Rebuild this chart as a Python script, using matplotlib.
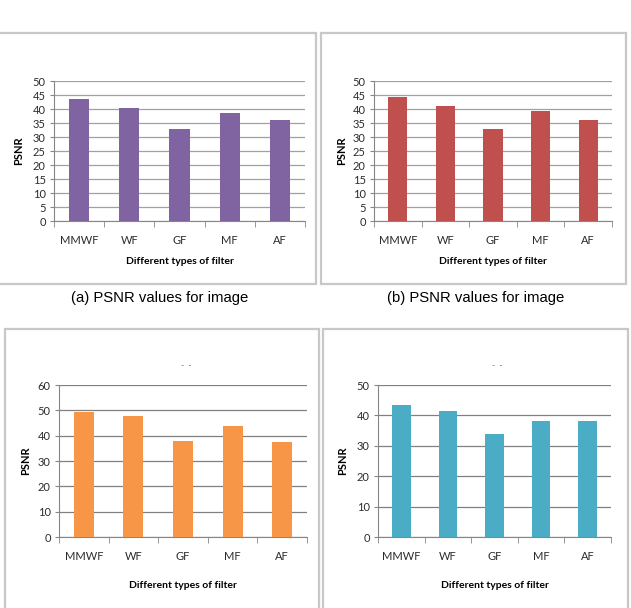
import matplotlib.pyplot as plt
from matplotlib.patches import Rectangle

# Data
filters = ['MMWF', 'WF', 'GF', 'MF', 'AF']
psnr_a = [43.5, 40.5, 33.0, 38.4, 36.0]
psnr_b = [44.3, 41.0, 33.0, 39.2, 36.0]
psnr_c = [49.5, 47.8, 38.0, 43.7, 37.5]
psnr_d = [43.4, 41.4, 33.9, 38.0, 38.0]

W, H = 631, 608
fig = plt.figure(figsize=(W / 100, H / 100), dpi=100)
plt.rcParams['font.family'] = ['Lato', 'DejaVu Sans']


def px_box(x0, y0, x1, y1):
    # pixel box (top-left origin) -> figure fraction [left, bottom, width, height]
    return [x0 / W, 1 - y1 / H, (x1 - x0) / W, (y1 - y0) / H]


def frame(x0, y0, x1, y1):
    l, b, w, h = px_box(x0, y0, x1, y1)
    fig.patches.append(Rectangle((l, b), w, h, transform=fig.transFigure,
                                 fill=False, edgecolor='#c8c8c8', linewidth=1.6))


def bar_chart(box, values, color, ymax, step, ylabel_x, xlabel_y, grid_col, dash_title=None):
    ax = fig.add_axes(px_box(*box))
    ax.bar(range(len(filters)), values, width=0.4, color=color, zorder=3)
    ax.set_xlim(-0.5, len(filters) - 0.5)
    ax.set_ylim(0, ymax)
    ax.set_yticks(range(0, ymax + 1, step))
    ax.set_xticks(range(len(filters)))
    ax.set_xticklabels(filters)
    ax.set_xticks([i - 0.5 for i in range(len(filters) + 1)], minor=True)
    ax.tick_params(axis='x', which='major', length=0, pad=10, labelsize=8, labelcolor='#2b2b2b')
    ax.tick_params(axis='x', which='minor', length=4, color='#868686', direction='out')
    ax.tick_params(axis='y', length=3, color='#868686', labelsize=8, labelcolor='#2b2b2b', pad=3)
    ax.yaxis.grid(True, color=grid_col, linewidth=0.9, zorder=0)
    for s in ['top', 'right']:
        ax.spines[s].set_visible(False)
    for s in ['left', 'bottom']:
        ax.spines[s].set_color('#868686')
    ax.set_facecolor('none')
    x0, y0, x1, y1 = box
    fig.text(ylabel_x / W, 1 - (y0 + y1) / 2 / H, 'PSNR', rotation=90, fontsize=8,
             fontweight='bold', ha='center', va='center')
    fig.text((x0 + x1) / 2 / W, 1 - xlabel_y / H, 'Different types of filter', fontsize=7.5,
             fontweight='bold', ha='center', va='center')
    if dash_title:
        fig.text((x0 + x1) / 2 / W + 0.005, 1 - dash_title / H, '-  -', fontsize=6,
                 color='#555555', ha='center', va='center')
    return ax


# panel frames
frame(-2, 33, 316, 284)
frame(321, 33, 626, 284)
frame(5, 329, 319, 612)
frame(323, 329, 628, 612)

bar_chart((54, 81, 305, 221), psnr_a, '#8064A2', 50, 5, 19, 262, '#a0a0a0')
bar_chart((374, 81, 612, 221), psnr_b, '#C0504D', 50, 5, 342, 262, '#a0a0a0')
bar_chart((59, 385, 307, 537), psnr_c, '#F79646', 60, 10, 26, 586, '#808080', dash_title=365)
bar_chart((378, 385, 611, 537), psnr_d, '#4BACC6', 50, 10, 343, 586, '#808080', dash_title=365)

fig.text(160 / W, 1 - 298 / H, '(a) PSNR values for image', fontsize=10.7,
         family='Liberation Sans', ha='center', va='center')
fig.text(476 / W, 1 - 298 / H, '(b) PSNR values for image', fontsize=10.7,
         family='Liberation Sans', ha='center', va='center')

plt.savefig('out.png', dpi=100)
